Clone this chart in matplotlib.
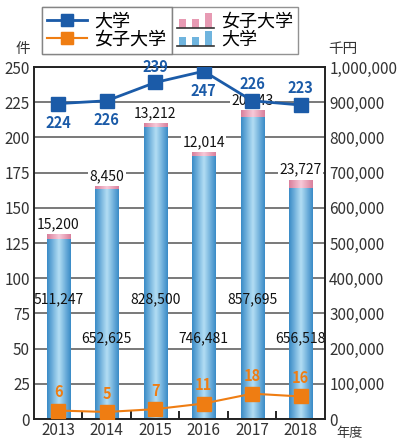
import numpy as np
import matplotlib.pyplot as plt
from matplotlib.lines import Line2D
from matplotlib.patches import Rectangle
from matplotlib.legend_handler import HandlerBase
from matplotlib.colors import LinearSegmentedColormap

plt.rcParams['font.family'] = ['Noto Sans CJK JP', 'DejaVu Sans']

years = ['2013', '2014', '2015', '2016', '2017', '2018']
univ_count = [224, 226, 239, 247, 226, 223]      # 件
women_count = [6, 5, 7, 11, 18, 16]               # 件
univ_amount = [511247, 652625, 828500, 746481, 857695, 656518]   # 千円
women_amount = [15200, 8450, 13212, 12014, 20443, 23727]         # 千円

BLUE = '#1b5ba8'
ORANGE = '#ef7d12'
TXT = '#333333'

blue_cmap = LinearSegmentedColormap.from_list('bl', ['#3a8bc7', '#b3def4', '#3a8bc7'])
pink_cmap = LinearSegmentedColormap.from_list('pk', ['#d97f9c', '#f8cad9', '#d97f9c'])
grad = np.linspace(0, 1, 64).reshape(1, -1)


class BarIconHandler(HandlerBase):
    # three little bars standing on a baseline
    def create_artists(self, legend, orig, xd, yd, w, h, fontsize, trans):
        col = orig.get_facecolor()
        arts = []
        for i, fh in enumerate([0.7, 0.7, 1.15]):
            r = Rectangle((xd + i * w * 0.36 + w * 0.04, yd - h * 0.1), w * 0.2, h * fh,
                          facecolor=col, edgecolor='none', transform=trans)
            arts.append(r)
        arts.append(Line2D([xd, xd + w], [yd - h * 0.1] * 2, color='#333', lw=1.2, transform=trans))
        return arts


fig = plt.figure(figsize=(4.02, 4.41), dpi=100)
ax = fig.add_axes([34 / 402, 22 / 441, 291 / 402, 352 / 441])
ax2 = ax.twinx()

x = np.arange(len(years))
w = 0.48

b1 = ax.bar(x, univ_amount, w, zorder=2)
b2 = ax.bar(x, women_amount, w, bottom=univ_amount, zorder=2)
for bars, cmap in [(b1, blue_cmap), (b2, pink_cmap)]:
    for b in bars:
        x0, y0 = b.get_x(), b.get_y()
        im = ax.imshow(grad, cmap=cmap, aspect='auto', zorder=2,
                       extent=(x0, x0 + b.get_width(), y0, y0 + b.get_height()))
        im.set_clip_path(b)
        b.set_facecolor('none')
        b.set_edgecolor('none')

ax.set_xlim(-0.5, len(years) - 0.5)
ax.set_ylim(0, 1000000)
ax.set_yticks(range(0, 1000001, 100000))
ax.set_yticklabels([f'{v:,}' for v in range(0, 1000001, 100000)])
ax.yaxis.tick_right()
ax.grid(axis='y', color='#555555', lw=1.1, zorder=0)
ax.set_axisbelow(True)
ax.set_xticks(x, years)
ax.set_xticks(x[:-1] + 0.5, minor=True)
ax.tick_params(axis='x', which='major', length=0, pad=2, labelsize=11, labelcolor=TXT)
ax.tick_params(axis='x', which='minor', direction='in', length=6, width=1.2)
ax.tick_params(axis='y', length=0, pad=3, labelsize=11, labelcolor=TXT)

# amount labels: 大学 inside the bar, 女子大学 above it
for i in x:
    ypos = 340000 if i % 2 == 0 else 230000
    ax.text(i, ypos, f'{univ_amount[i]:,}', ha='center', va='center', fontsize=10, color='#111', zorder=4)
    ax.annotate(f'{women_amount[i]:,}', (i, univ_amount[i] + women_amount[i]),
                xytext=(0, 2), textcoords='offset points', ha='center', va='bottom',
                fontsize=10, color='#111', zorder=4,
                bbox=dict(boxstyle='square,pad=0.1', fc='white', ec='none'))

ax2.set_ylim(0, 250)
ax2.set_yticks(range(0, 251, 25))
ax2.yaxis.tick_left()
ax2.tick_params(axis='y', length=0, pad=3, labelsize=11, labelcolor=TXT)
ax2.plot(x, univ_count, color=BLUE, lw=2, marker='s', ms=10, zorder=5)
ax2.plot(x, women_count, color=ORANGE, lw=1.5, marker='s', ms=10, zorder=5)

offs = [-14, -14, 11, -14, 12, 12]
for i in x:
    ax2.annotate(str(univ_count[i]), (i, univ_count[i]), xytext=(0, offs[i]), textcoords='offset points',
                 ha='center', va='center', fontsize=10.5, fontweight='bold', color=BLUE, zorder=6)
    ax2.annotate(str(women_count[i]), (i, women_count[i]), xytext=(0, 13), textcoords='offset points',
                 ha='center', va='center', fontsize=10.5, fontweight='bold', color=ORANGE, zorder=6)

for a in (ax, ax2):
    for s in a.spines.values():
        s.set_color('#222')
        s.set_linewidth(1.2)

fig.text(23 / 402, 1 - 49 / 441, '件', ha='center', va='center', fontsize=10.5, color=TXT)
fig.text(343 / 402, 1 - 49 / 441, '千円', ha='center', va='center', fontsize=10.5, color=TXT)
fig.text(350 / 402, 1 - 434 / 441, '年度', ha='center', va='center', fontsize=9.5, color=TXT)

h_lines = [Line2D([], [], color=BLUE, lw=2, marker='s', ms=9),
           Line2D([], [], color=ORANGE, lw=1.5, marker='s', ms=9)]
leg1 = fig.legend(h_lines, ['大学', '女子大学'], loc='upper left', bbox_to_anchor=(42 / 402, 1 - 7 / 441),
                  fontsize=13, frameon=True, fancybox=False, edgecolor='#777', handlelength=2.2,
                  borderpad=0.3, labelspacing=0.0, handletextpad=0.4, borderaxespad=0)
h_bars = [Rectangle((0, 0), 1, 1, facecolor='#e79ab3'), Rectangle((0, 0), 1, 1, facecolor='#6fb4de')]
leg2 = fig.legend(h_bars, ['女子大学', '大学'], loc='upper left', bbox_to_anchor=(172 / 402, 1 - 7 / 441),
                  fontsize=13, frameon=True, fancybox=False, edgecolor='#777', handlelength=2.0,
                  borderpad=0.3, labelspacing=0.0, handletextpad=0.4, borderaxespad=0,
                  handler_map={Rectangle: BarIconHandler()})
fig.add_artist(leg1)

fig.savefig('out.png', dpi=100, facecolor='white')
